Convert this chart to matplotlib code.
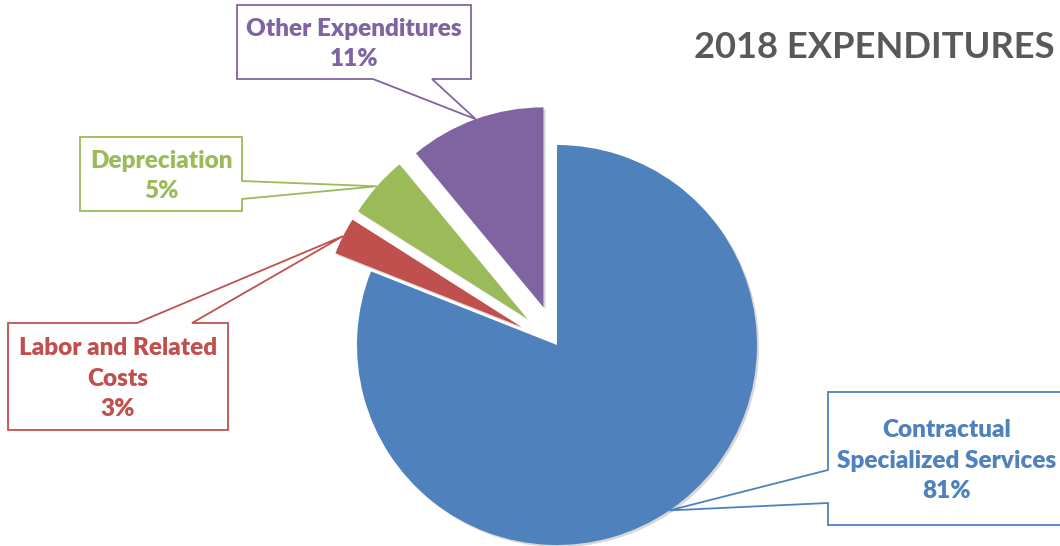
import numpy as np
import matplotlib
matplotlib.use("Agg")
import matplotlib.pyplot as plt
from matplotlib.patches import Polygon
import matplotlib.patheffects as pe

plt.rcParams['font.family'] = ['Lato', 'DejaVu Sans']

# data
categories = ['Contractual\nSpecialized Services', 'Labor and Related\nCosts', 'Depreciation', 'Other Expenditures']
values = [81, 3, 5, 11]
colors = ['#4F81BD', '#C0504D', '#9BBB59', '#8064A2']
title = '2018 EXPENDITURES'

W, H = 1060, 546

fig = plt.figure(figsize=(W / 100, H / 100), dpi=100)
ax = fig.add_axes([0, 0, 1, 1])

wedges, _ = ax.pie(values, colors=colors, startangle=90, counterclock=False,
                   center=(557, H - 345), radius=200, explode=[0, 40, 40, 40],
                   wedgeprops=dict(linewidth=0))
for w in wedges:
    w.set_path_effects([pe.SimplePatchShadow(offset=(1.5, -1.5), shadow_rgbFace='#666666', alpha=0.25),
                        pe.Normal()])

ax.set_xlim(0, W)
ax.set_ylim(0, H)
ax.set_aspect('equal')
ax.axis('off')


def callout(box, side, b0, b1, tip):
    x0, y0, x1, y1 = box
    pts = [(x0, y0)]
    if side == 'bottom':
        pts += [(b0, y0), tip, (b1, y0)]
    pts.append((x1, y0))
    if side == 'right':
        pts += [(x1, b0), tip, (x1, b1)]
    pts.append((x1, y1))
    if side == 'top':
        pts += [(b1, y1), tip, (b0, y1)]
    pts.append((x0, y1))
    if side == 'left':
        pts += [(x0, b1), tip, (x0, b0)]
    return pts


# label boxes (x0, y0, x1, y1 in pixels, y up), pointer side and base
boxes = [
    ((828, 21, 1066, 154), 'left', 43, 76),
    ((8, 116, 228, 223), 'top', 137, 192),
    ((80, 335, 242, 409), 'right', 347, 365),
    ((237, 467, 471, 541), 'bottom', 373, 432),
]

for w, (box, side, b0, b1), lab, v, c in zip(wedges, boxes, categories, values, colors):
    ang = np.deg2rad((w.theta1 + w.theta2) / 2)
    cx, cy = w.center
    tip = (cx + w.r * np.cos(ang), cy + w.r * np.sin(ang))
    poly = Polygon(callout(box, side, b0, b1, tip), closed=True, facecolor='white',
                   edgecolor=c, linewidth=1.3, zorder=3)
    ax.add_patch(poly)
    x0, y0, x1, y1 = box
    ax.text((x0 + x1) / 2, (y0 + y1) / 2 - 2, f'{lab}\n{v}%', ha='center', va='center',
            color=c, fontsize=17.5, fontweight='heavy', linespacing=1.45, zorder=4)

ax.text(694, H - 47, title, ha='left', va='center', color='#595959',
        fontsize=26.2, fontweight='bold')

fig.savefig('out.png', dpi=100)
